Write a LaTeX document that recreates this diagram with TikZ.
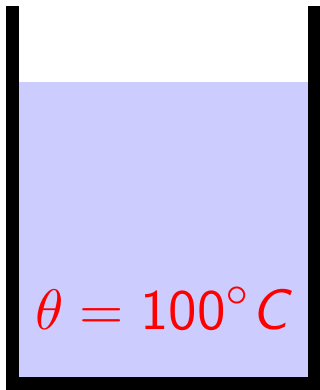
\documentclass[tikz,border=0pt]{standalone}
\usepackage{fontspec}
\usepackage{tikz}
\tikzstyle{wall} = [line width=6.5pt, black, line join=miter]
\tikzstyle{water} = [fill=blue!20]
\tikzstyle{temp} = [text=red, anchor=base, inner sep=0pt, scale=2.85]

\begin{document}
\begin{tikzpicture}[x=0.5pt,y=0.5pt]
        \useasboundingbox (0,0) rectangle (320,390);
        \fill [water] (19,12) rectangle (308,308);
        \draw [wall] (12.5,384) -- (12.5,6) -- (314.5,6) -- (314.5,384);
        \node [temp] at (162,60) (t) {$\theta = \mathsf{100}^\circ \textsf{\itshape C}$};
\end{tikzpicture}
\end{document}
